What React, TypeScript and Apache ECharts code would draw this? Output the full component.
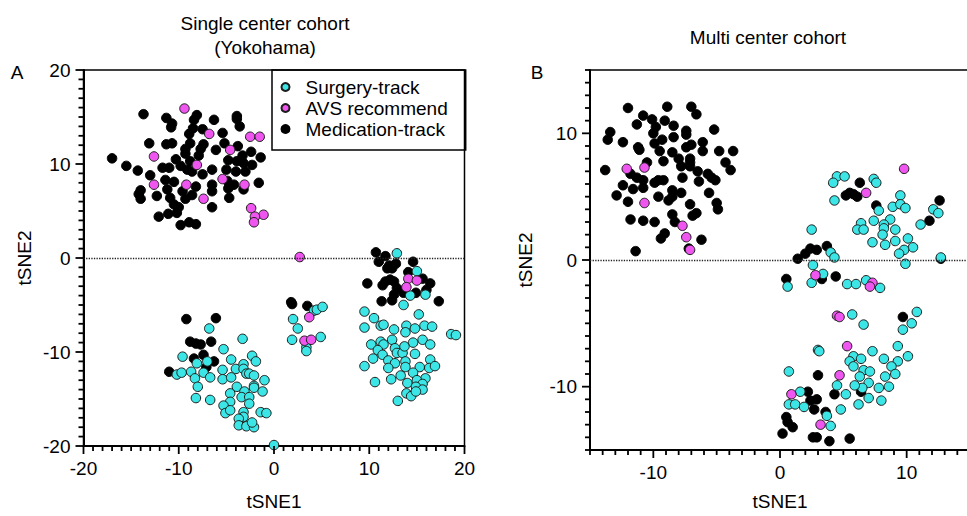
import React, { useEffect, useRef } from "react";
import * as echarts from "echarts";

const FONT = 'Arial, "Liberation Sans", Helvetica, sans-serif';

const seriesNames = ["Surgery-track", "AVS recommend", "Medication-track"];
const seriesColors = ["#3de6e6", "#ef55ef", "#000000"];

const titleSingle = "Single center cohort\n(Yokohama)";
const titleMulti = "Multi center cohort";

const singleRange = [-20, 20];
const multiRange = [-15, 15];
const multiTickLabels = [-10, 0, 10];

// Panel A: single center cohort (Yokohama)
const singleMedication = [
  [-13.7, 15.3], [-11.3, 14.9], [-8.1, 15.2], [-8.4, 14.7], [-6.3, 14.7], [-3.9, 15.1], [-3.9, 14.8],
  [-10.7, 14.3], [-10.8, 13.9], [-8.5, 13.8], [-7.5, 13.7], [-8.9, 13.2], [-5.4, 13.3], [-3.6, 14.0],
  [-13.1, 12.2], [-11.3, 12.1], [-10.7, 12.2], [-8.8, 12.2], [-7.4, 12.1], [-5.2, 12.2], [-3.8, 11.9],
  [-9.3, 11.6], [-7.7, 11.6], [-6.1, 11.5], [-2.4, 11.3], [-9.3, 11.1], [-7.9, 10.9], [-3.3, 10.9],
  [-17.0, 10.6], [-1.4, 10.7], [-10.3, 10.5], [-8.8, 10.3], [-4.8, 10.4], [-3.9, 10.3], [-3.2, 10.1],
  [-2.3, 9.9], [-15.5, 9.8], [-11.7, 9.6], [-11.0, 9.6], [-9.8, 9.8], [-9.1, 9.4], [-6.5, 9.4],
  [-5.0, 9.4], [-4.0, 9.2], [-3.0, 9.2], [-14.3, 9.3], [-13.0, 8.8], [-8.6, 9.2], [-7.5, 8.9],
  [-11.4, 8.3], [-10.5, 8.1], [-4.9, 8.2], [-4.6, 7.7], [-4.2, 7.8], [-1.6, 8.0], [-6.5, 7.8],
  [-8.2, 7.6], [-14.0, 7.2], [-14.2, 6.8], [-11.2, 7.3], [-9.6, 7.1], [-6.5, 7.1], [-4.8, 7.4],
  [-3.2, 7.3], [-12.3, 6.6], [-8.6, 6.7], [-10.9, 6.4], [-9.3, 6.3], [-4.7, 6.4], [-14.0, 6.3],
  [-10.5, 5.7], [-10.0, 5.4], [-6.5, 5.4], [-10.2, 4.8], [-11.1, 4.7], [-12.1, 4.4], [-9.8, 3.5],
  [-8.9, 3.8], [-8.2, 3.6],
  [-9.2, -6.5], [-6.1, -6.4], [-8.8, -8.9], [-8.2, -9.1], [-7.7, -9.2], [-6.6, -8.9], [-8.4, -10.7],
  [-7.4, -10.3], [-6.3, -11.0], [-7.1, -11.6], [-11.0, -12.1],
  [1.8, -4.7], [1.9, -4.9], [3.5, -5.1],
  [10.7, 0.6], [11.7, 0.2], [11.0, -0.4], [12.1, -0.8], [12.8, -0.6], [12.4, -1.1], [11.9, -1.1],
  [14.6, -0.4], [14.1, -1.5], [15.6, -2.2], [16.4, -2.7], [9.8, -2.7], [11.4, -2.9], [11.7, -2.5],
  [12.2, -2.3], [12.6, -2.5], [12.9, -3.2], [16.0, -3.4], [12.6, -3.9], [13.6, -3.7], [14.9, -3.7],
  [11.3, -4.6], [12.4, -4.5], [17.3, -4.6],
];

const singleSurgery = [
  [-6.8, -7.5], [-5.3, -9.7], [-3.3, -8.6], [-9.6, -10.5], [-8.1, -11.2], [-7.0, -11.0], [-4.5, -10.8],
  [-2.3, -10.4], [-1.9, -11.0], [-10.2, -12.4], [-9.7, -12.2], [-8.7, -12.1], [-8.3, -12.8], [-7.4, -12.2],
  [-6.7, -12.7], [-5.4, -11.9], [-4.0, -11.8], [-3.2, -11.3], [-3.2, -11.8], [-2.9, -12.3], [-2.6, -12.3],
  [-2.1, -12.5], [-5.4, -12.9], [-4.5, -12.7], [-1.0, -13.0], [-2.1, -13.6], [-2.1, -13.8], [-3.9, -13.7],
  [-8.0, -13.7], [-3.1, -14.2], [-1.2, -14.2], [-8.2, -14.9], [-6.7, -15.1], [-4.6, -14.4], [-3.4, -14.8],
  [-2.6, -14.8], [-2.6, -15.5], [-4.6, -15.3], [-5.3, -15.7], [-5.1, -16.5], [-4.6, -16.2], [-3.2, -16.4],
  [-3.2, -16.9], [-3.7, -17.1], [-3.7, -17.8], [-2.9, -17.9], [-2.1, -18.0], [-2.3, -17.5], [-1.4, -16.4],
  [-0.8, -16.5], [0.0, -19.9],
  [4.2, -5.6], [4.5, -5.5], [5.1, -5.2], [2.0, -6.5], [2.5, -7.5], [1.9, -8.7], [3.4, -9.5], [3.4, -9.9],
  [4.9, -8.4],
  [12.9, 0.5], [15.0, -1.4], [14.3, -4.0], [15.9, -3.9], [13.6, -5.0], [9.5, -5.7], [15.2, -6.0],
  [10.5, -6.4], [9.5, -7.4], [11.2, -7.2], [11.5, -7.1], [12.6, -7.6], [13.9, -7.2], [14.8, -7.5],
  [13.8, -7.9], [15.8, -7.2], [16.6, -7.3], [18.6, -8.1], [19.1, -8.2], [12.4, -8.7], [10.2, -9.2],
  [11.2, -8.9], [11.5, -9.2], [14.6, -9.0], [15.6, -8.7], [16.4, -9.2], [10.9, -9.8], [12.7, -9.6],
  [12.9, -10.1], [13.5, -10.1], [13.7, -9.4], [14.8, -10.2], [11.4, -10.3], [10.4, -10.7], [12.0, -10.9],
  [13.8, -11.0], [12.7, -11.2], [16.4, -10.8], [9.5, -11.5], [12.0, -11.7], [13.8, -11.6], [15.3, -11.6],
  [16.3, -11.7], [16.9, -11.5], [14.6, -12.2], [13.3, -12.5], [12.3, -12.9], [15.9, -12.8], [10.6, -13.2],
  [14.0, -13.3], [15.0, -13.0], [15.6, -13.4], [14.9, -13.7], [15.6, -14.0], [13.9, -14.4], [14.4, -14.7],
  [14.9, -14.2], [13.0, -15.2],
];

const singleAvs = [
  [-9.4, 15.9], [-6.8, 13.2], [-2.5, 12.9], [-1.5, 12.9], [-4.6, 11.5], [-12.6, 10.8], [-8.1, 9.9],
  [-5.4, 8.4], [-9.2, 7.8], [-3.1, 7.8], [-12.6, 7.8], [-7.4, 6.3], [-2.4, 5.3], [-1.1, 4.6],
  [-2.0, 4.4], [-2.1, 3.8], [2.7, 0.1], [3.7, -6.3], [3.2, -8.8], [3.9, -8.7], [14.1, -2.2],
  [15.0, -2.4], [13.9, -3.1],
];

// Panel B: multi center cohort
const multiMedication = [
  [-12.0, 12.0], [-8.9, 12.1], [-7.0, 12.1], [-6.6, 11.5], [-10.8, 11.4], [-10.1, 11.1], [-9.1, 11.0],
  [-11.3, 10.7], [-9.8, 10.5], [-8.4, 10.6], [-13.4, 10.1], [-10.0, 10.0], [-7.4, 10.2], [-7.4, 9.9],
  [-5.2, 10.3], [-13.6, 9.5], [-12.4, 9.3], [-9.3, 9.5], [-8.4, 9.7], [-9.9, 9.2], [-6.1, 9.3],
  [-11.2, 8.9], [-11.1, 8.7], [-7.4, 8.9], [-7.0, 9.1], [-9.5, 8.6], [-8.5, 8.5], [-6.1, 8.6],
  [-4.8, 8.6], [-3.7, 8.6], [-8.0, 8.0], [-7.1, 8.0], [-7.1, 7.7], [-7.1, 7.4], [-9.2, 7.8],
  [-10.5, 7.7], [-4.3, 7.7], [-7.8, 7.4], [-13.8, 7.1], [-11.8, 6.8], [-6.5, 7.0], [-3.9, 7.1],
  [-5.7, 6.8], [-5.4, 6.5], [-5.1, 6.3], [-11.3, 6.5], [-10.8, 6.3], [-9.6, 6.3], [-9.2, 6.3],
  [-9.9, 6.1], [-7.7, 6.5], [-6.4, 6.2], [-12.4, 5.9], [-10.8, 5.7], [-11.6, 5.6], [-8.5, 5.5],
  [-8.8, 4.7], [-7.8, 5.3], [-5.6, 5.3], [-12.9, 5.1], [-9.6, 5.0], [-8.5, 5.0], [-12.0, 4.6],
  [-7.1, 4.4], [-5.0, 4.5], [-4.9, 4.0], [-6.9, 3.5], [-6.6, 3.7], [-8.5, 3.6], [-11.8, 3.2],
  [-10.8, 3.1], [-9.9, 3.0], [-8.3, 3.0], [-9.1, 2.1], [-9.4, 1.7], [-6.2, 1.6], [-7.2, 0.9],
  [-11.4, 0.7],
  [6.3, 6.1], [5.5, 5.3], [5.2, 5.1], [6.1, 5.0], [5.8, 5.2], [7.6, 4.3], [12.6, 4.7], [11.8, 3.1],
  [12.7, 0.1], [1.4, 0.1], [2.0, 0.5], [2.4, 0.9], [2.9, 0.8], [3.7, 1.1], [0.5, -1.5], [3.3, -1.5],
  [4.4, -1.3], [9.7, -4.5], [3.0, -9.1], [6.4, -10.4], [4.3, -10.6], [2.2, -10.4], [2.9, -11.0],
  [2.4, -11.1], [2.7, -11.8], [3.6, -12.0], [0.5, -12.4], [0.6, -12.8], [1.0, -13.2], [0.2, -13.7],
  [2.6, -14.0], [2.9, -14.0], [3.9, -14.3], [5.5, -14.1],
];

const multiSurgery = [
  [4.5, 6.6], [5.1, 6.6], [4.2, 6.1], [7.4, 6.4], [7.6, 6.1], [4.3, 4.7], [9.5, 5.1], [7.8, 3.9],
  [8.9, 4.2], [9.5, 4.4], [9.9, 4.1], [12.1, 4.0], [12.5, 3.7], [11.1, 2.8], [6.4, 2.9], [6.1, 2.4],
  [6.6, 2.4], [7.4, 3.1], [8.7, 3.2], [8.2, 2.8], [8.2, 2.5], [8.1, 2.0], [9.1, 2.4], [7.3, 1.4],
  [8.3, 1.2], [9.1, 1.5], [10.1, 1.7], [10.5, 1.0], [9.8, 0.8], [9.4, 0.5], [9.9, -0.3], [12.7, 0.2],
  [2.5, 2.4], [4.0, 0.6], [4.3, 0.2], [2.6, -0.4], [0.6, -2.1], [3.4, -1.1], [2.5, -1.8], [5.3, -1.9],
  [6.0, -1.9], [6.8, -1.6], [7.9, -2.2], [10.8, -4.1], [5.7, -4.3], [6.6, -5.1], [10.4, -5.0],
  [9.7, -5.5], [3.0, -7.1], [3.1, -7.2], [7.3, -7.2], [9.3, -6.8], [10.1, -7.6], [5.8, -7.6],
  [6.4, -7.8], [5.5, -8.0], [5.8, -8.4], [8.2, -7.8], [9.3, -8.0], [8.8, -8.4], [0.7, -8.8],
  [6.6, -8.7], [7.1, -8.8], [6.3, -9.2], [8.3, -9.2], [9.1, -9.0], [7.0, -9.7], [6.5, -10.1],
  [5.9, -9.9], [4.5, -9.9], [8.6, -10.0], [7.8, -10.1], [5.2, -10.6], [7.0, -10.9], [8.0, -11.1],
  [6.2, -11.4], [4.8, -11.8], [1.6, -10.4], [0.7, -11.4], [1.2, -11.4], [1.9, -11.6], [3.7, -12.3],
  [4.0, -13.1],
];

const multiAvs = [
  [-12.1, 7.2], [-10.7, 7.3], [-10.7, 4.5], [-7.7, 2.7], [-7.4, 1.8], [-7.1, 0.8], [9.8, 7.2],
  [6.8, 5.3], [2.8, -1.2], [7.3, -1.8], [7.1, -2.1], [4.5, -4.4], [4.7, -4.5], [5.3, -6.8],
  [4.7, -9.1], [0.9, -10.6], [3.2, -13.0],
];

const axisColor = "#000";
const labelStyle = { fontSize: 19, color: "#000", fontFamily: FONT };

// one tick per unit along an axis range (as the axes' minor ticks)
function unitTicks(range: number[]) {
  const out: number[] = [];
  for (let v = range[0]; v <= range[1]; v++) out.push(v);
  return out;
}

function scatter(name: string, data: number[][], color: string, gridIdx: number, withZeroLine: boolean) {
  const s: any = {
    name,
    type: "scatter",
    xAxisIndex: gridIdx,
    yAxisIndex: gridIdx,
    data,
    symbol: "circle",
    symbolSize: 9.5,
    itemStyle: {
      color,
      borderColor: color === "#000000" ? "#000" : "#1c1c1c",
      borderWidth: 1,
      opacity: 1,
    },
    emphasis: { disabled: true },
  };
  if (withZeroLine) {
    s.markLine = {
      silent: true,
      symbol: "none",
      label: { show: false },
      lineStyle: { type: "dotted", color: "#222", width: 1.3 },
      data: [{ yAxis: 0 }],
    };
  }
  return s;
}

export default function App() {
  const ref = useRef<HTMLDivElement>(null);

  useEffect(() => {
    if (!ref.current) return;
    const chart = echarts.init(ref.current, undefined, { renderer: "svg" });
    const lineStyle = { color: axisColor, width: 2 };
    const axisLine = { show: true, onZero: false, lineStyle };
    const letters = [
      { type: "text", id: "lblA", x: 17, y: 72, style: { text: "A", fill: "#000", font: `19px ${FONT}`, align: "center", verticalAlign: "middle" } },
      { type: "text", id: "lblB", x: 537, y: 72, style: { text: "B", fill: "#000", font: `19px ${FONT}`, align: "center", verticalAlign: "middle" } },
    ];
    const option: any = {
      animation: false,
      backgroundColor: "#fff",
      textStyle: { fontFamily: FONT },
      title: [
        {
          text: titleSingle,
          left: 265,
          top: 11,
          textAlign: "center",
          padding: 0,
          textStyle: { fontSize: 19, fontWeight: "normal", lineHeight: 24, color: "#000", fontFamily: FONT },
        },
        {
          text: titleMulti,
          left: 768,
          top: 25,
          textAlign: "center",
          padding: 0,
          textStyle: { fontSize: 19, fontWeight: "normal", lineHeight: 24, color: "#000", fontFamily: FONT },
        },
      ],
      legend: {
        data: seriesNames,
        orient: "vertical",
        left: 272,
        top: 70,
        icon: "circle",
        itemWidth: 30,
        itemHeight: 8,
        itemGap: 0,
        padding: [6.5, 18, 10.5, 8.5],
        borderColor: "#000",
        borderWidth: 1.5,
        selectedMode: false,
        textStyle: { fontSize: 19, lineHeight: 21, color: "#000", fontFamily: FONT },
      },
      grid: [
        { left: 83.5, top: 70, width: 381, height: 380, show: true, borderColor: "#000", borderWidth: 1.5, containLabel: false },
        { left: 590, top: 70, width: 380, height: 380, show: true, borderColor: "#000", borderWidth: 1.5, containLabel: false },
      ],
      xAxis: [
        {
          gridIndex: 0,
          type: "value",
          min: singleRange[0],
          max: singleRange[1],
          interval: 10,
          axisLine,
          axisTick: { show: false },
          splitLine: { show: false },
          axisLabel: { show: true, ...labelStyle, margin: 13 },
          name: "tSNE1",
          nameLocation: "middle",
          nameGap: 46,
          nameTextStyle: { ...labelStyle },
        },
        {
          gridIndex: 1,
          type: "value",
          min: multiRange[0],
          max: multiRange[1],
          interval: 5,
          axisLine,
          axisTick: { show: false },
          splitLine: { show: false },
          axisLabel: {
            show: true,
            ...labelStyle,
            margin: 13,
            customValues: multiTickLabels,
            formatter: (v: number) => (v % 10 === 0 ? String(v) : ""),
          },
          name: "tSNE1",
          nameLocation: "middle",
          nameGap: 42,
          nameTextStyle: { ...labelStyle },
        },
      ],
      yAxis: [
        {
          gridIndex: 0,
          type: "value",
          min: singleRange[0],
          max: singleRange[1],
          interval: 10,
          axisLine,
          axisTick: { show: false },
          splitLine: { show: false },
          axisLabel: { show: true, ...labelStyle, margin: 13 },
          name: "tSNE2",
          nameLocation: "middle",
          nameGap: 50,
          nameRotate: 90,
          nameTextStyle: { ...labelStyle },
        },
        {
          gridIndex: 1,
          type: "value",
          min: multiRange[0],
          max: multiRange[1],
          interval: 5,
          axisLine,
          axisTick: { show: false },
          splitLine: { show: false },
          axisLabel: {
            show: true,
            ...labelStyle,
            margin: 13,
            customValues: multiTickLabels,
            formatter: (v: number) => (v % 10 === 0 ? String(v) : ""),
          },
          name: "tSNE2",
          nameLocation: "middle",
          nameGap: 55,
          nameRotate: 90,
          nameTextStyle: { ...labelStyle },
        },
      ],
      graphic: letters,
      series: [
        scatter(seriesNames[2], singleMedication, seriesColors[2], 0, true),
        scatter(seriesNames[0], singleSurgery, seriesColors[0], 0, false),
        scatter(seriesNames[1], singleAvs, seriesColors[1], 0, false),
        scatter(seriesNames[2], multiMedication, seriesColors[2], 1, true),
        scatter(seriesNames[0], multiSurgery, seriesColors[0], 1, false),
        scatter(seriesNames[1], multiAvs, seriesColors[1], 1, false),
      ],
    };
    chart.setOption(option);

    // axis ticks placed through the library's scales (convertToPixel), drawn as thin rects
    const ticks: any[] = [];
    const addTicks = (gridIndex: number, range: number[]) => {
      unitTicks(range).forEach((v) => {
        const len = v % 10 === 0 ? 8 : 5;
        const px = chart.convertToPixel({ gridIndex } as any, [v, range[0]]) as any;
        const py = chart.convertToPixel({ gridIndex } as any, [range[0], v]) as any;
        if (px && isFinite(px[0])) {
          ticks.push({
            type: "rect",
            silent: true,
            z: 50,
            shape: { x: px[0] - 0.9, y: px[1], width: 1.8, height: len },
            style: { fill: axisColor },
          });
        }
        if (py && isFinite(py[1])) {
          ticks.push({
            type: "rect",
            silent: true,
            z: 50,
            shape: { x: py[0] - len, y: py[1] - 0.9, width: len, height: 1.8 },
            style: { fill: axisColor },
          });
        }
      });
    };
    addTicks(0, singleRange);
    addTicks(1, multiRange);
    chart.setOption({ graphic: [...letters, ...ticks] });

    return () => chart.dispose();
  }, []);

  return (
    <div
      ref={ref}
      style={{ position: "fixed", left: 0, top: 0, width: 980, height: 516, background: "#fff" }}
    />
  );
}
